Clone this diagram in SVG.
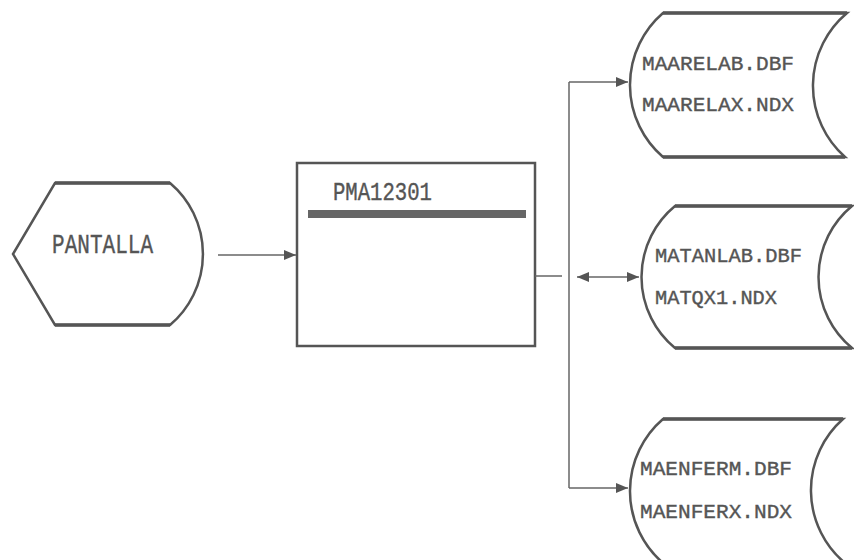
<svg xmlns="http://www.w3.org/2000/svg" width="854" height="560" viewBox="0 0 854 560">
<defs>
<marker id="ah" viewBox="0 0 12 10" refX="12" refY="5" markerWidth="12" markerHeight="10" markerUnits="userSpaceOnUse" orient="auto-start-reverse">
<path d="M0,0 L12,5 L0,10 Z" fill="#555"/>
</marker>
<style>
.shape{fill:#fff;stroke:#555;stroke-width:2.5}
.edge{fill:none;stroke:#555;stroke-width:3.5}
.conn{fill:none;stroke:#666;stroke-width:1.5}
.t{font-family:"Liberation Mono","DejaVu Sans Mono",monospace;fill:#555;stroke:#555;stroke-width:0.4}
.f{font-size:21px}
</style>
</defs>
<rect width="854" height="560" fill="#fff"/>
<g id="pantalla">
<path class="shape" d="M55,183 H170 A93,93 0 0 1 170,325 H55 L13,254 Z"/>
<path class="edge" d="M55,183 H170 M55,325 H170"/>
<text class="t" x="52" y="253" font-size="28" textLength="101" lengthAdjust="spacingAndGlyphs">PANTALLA</text>
</g>
<g id="pma12301">
<rect class="shape" x="297" y="163" width="238" height="183" stroke-width="3.5"/>
<text class="t" x="333" y="200" font-size="25" textLength="99" lengthAdjust="spacingAndGlyphs">PMA12301</text>
<rect x="308" y="210" width="218" height="8" fill="#666"/>
</g>
<g id="maarelab">
<path class="shape" d="M663,13 H847 A95,95 0 0 0 845,157 H663 A95,95 0 0 1 663,13 Z"/>
<path class="edge" d="M663,13 H847 M663,157 H845"/>
<text class="t f" x="642" y="70" textLength="152" lengthAdjust="spacingAndGlyphs">MAARELAB.DBF</text>
<text class="t f" x="642" y="111" textLength="152" lengthAdjust="spacingAndGlyphs">MAARELAX.NDX</text>
</g>
<g id="matanlab">
<path class="shape" d="M675,206 H852 A92,92 0 0 0 852,348 H675 A92,92 0 0 1 675,206 Z"/>
<path class="edge" d="M675,206 H852 M675,348 H852"/>
<text class="t f" x="655" y="262" textLength="147" lengthAdjust="spacingAndGlyphs">MATANLAB.DBF</text>
<text class="t f" x="655" y="304" textLength="122" lengthAdjust="spacingAndGlyphs">MATQX1.NDX</text>
</g>
<g id="maenferm">
<path class="shape" d="M663,419 H843 A95,95 0 0 0 845,563 H663 A95,95 0 0 1 663,419 Z"/>
<path class="edge" d="M663,419 H843"/>
<text class="t f" x="640" y="475" textLength="152" lengthAdjust="spacingAndGlyphs">MAENFERM.DBF</text>
<text class="t f" x="640" y="518" textLength="152" lengthAdjust="spacingAndGlyphs">MAENFERX.NDX</text>
</g>
<g id="connectors">
<line class="conn" x1="218" y1="255" x2="296" y2="255" marker-end="url(#ah)"/>
<line class="conn" x1="535" y1="276" x2="562" y2="276"/>
<line class="conn" x1="569" y1="82" x2="569" y2="488"/>
<line class="conn" x1="569" y1="82" x2="628" y2="82" marker-end="url(#ah)"/>
<line class="conn" x1="569" y1="488" x2="628" y2="488" marker-end="url(#ah)"/>
<line class="conn" x1="577" y1="277" x2="639" y2="277" marker-start="url(#ah)" marker-end="url(#ah)"/>
</g>
</svg>
